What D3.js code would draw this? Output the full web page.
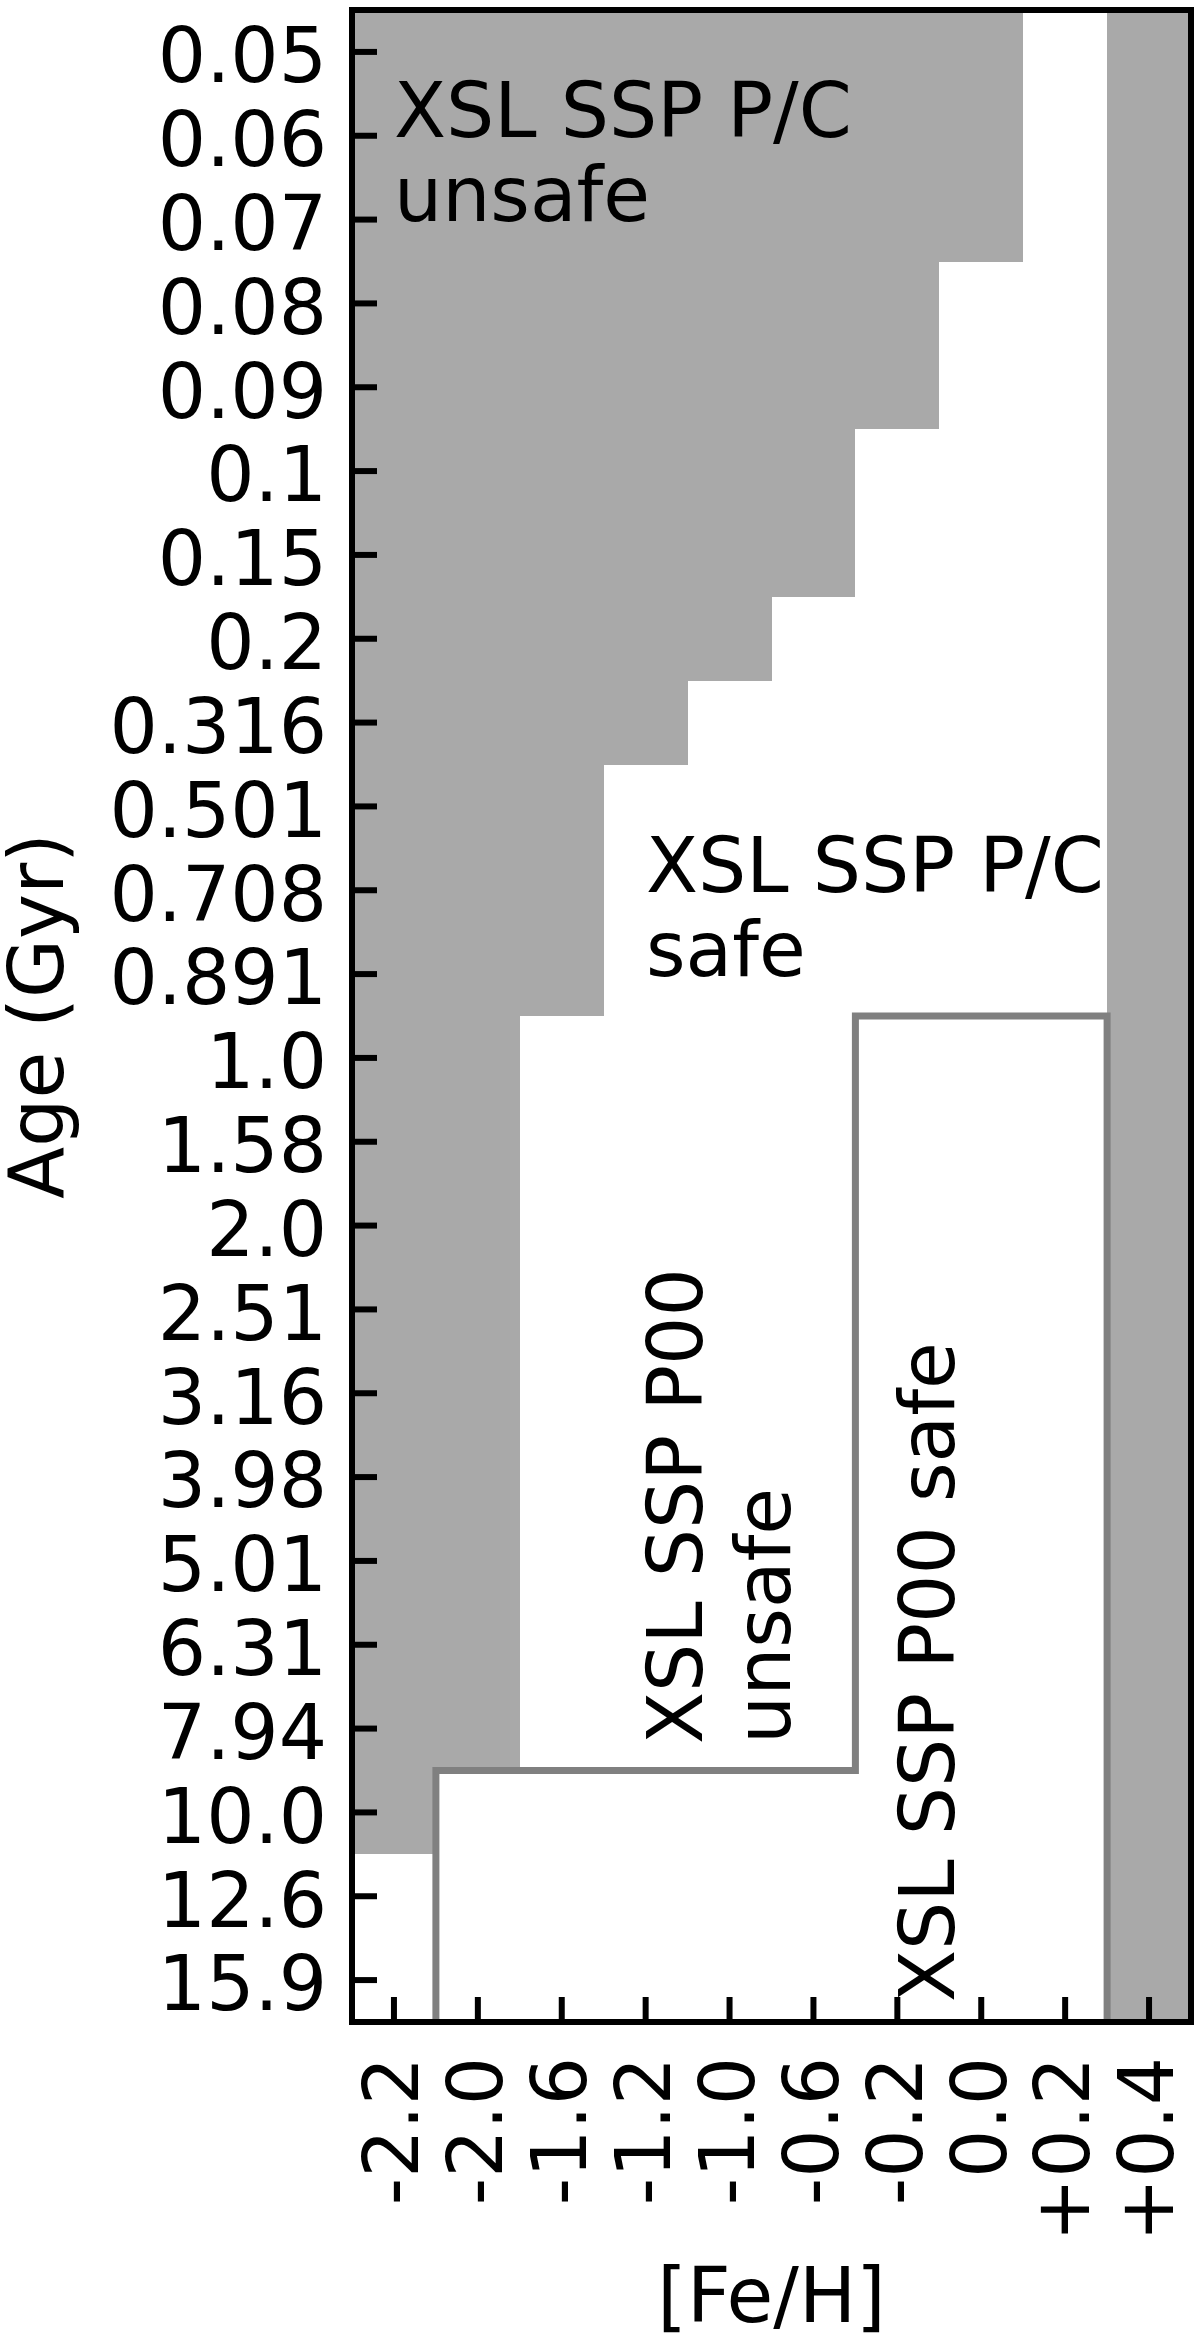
<!DOCTYPE html>
<html>
<head>
<meta charset="utf-8">
<script src="https://cdn.jsdelivr.net/npm/d3@7"></script>
<style>
body{margin:0;background:#fff;}
svg{display:block;font-family:"DejaVu Sans";}
</style>
</head>
<body>
<svg id="chart" width="1200" height="2345"></svg>
<script>
//metallicity columns
var fehLabels = ["-2.2","-2.0","-1.6","-1.2","-1.0","-0.6","-0.2","0.0","+0.2","+0.4"];

//age rows, top to bottom
var ageLabels = ["0.05","0.06","0.07","0.08","0.09","0.1","0.15","0.2","0.316","0.501","0.708","0.891",
	"1.0","1.58","2.0","2.51","3.16","3.98","5.01","6.31","7.94","10.0","12.6","15.9"];

//how many rows (from the top) are P/C unsafe in each column
var pcUnsafeRows = [22, 21, 12, 9, 8, 7, 5, 3, 0, 24];

//first row of the P00 safe box per column, null = outside the box
var p00SafeFrom = [null, 21, 21, 21, 21, 21, 12, 12, 12, null];

var fontSize = 76;
var plotLeft = 352, plotRight = 1191, plotTop = 10, plotBottom = 2022;

var svg = d3.select("#chart");

var xScale = d3.scaleBand()
.domain(fehLabels)
.range([plotLeft, plotRight])
.padding(0);

var yScale = d3.scaleBand()
.domain(ageLabels)
.range([plotTop, plotBottom])
.padding(0);

//gray unsafe cells, one bar per column
svg.append("g")
.selectAll("rect")
.data(pcUnsafeRows)
.enter()
.append("rect")
.attr("x", function(d, i){ return xScale(fehLabels[i]); })
.attr("y", plotTop)
.attr("width", xScale.bandwidth())
.attr("height", function(d){ return d * yScale.bandwidth(); })
.attr("fill", "#a9a9a9")
.attr("shape-rendering", "crispEdges");

//P00 safe outline, stepped
var outline = [];
var firstCol = p00SafeFrom.findIndex(function(d){ return d !== null; });
outline.push([xScale(fehLabels[firstCol]), plotBottom]);
p00SafeFrom.forEach(function(d, i){
	if(d === null) return;
	var top = plotTop + d * yScale.bandwidth();
	outline.push([xScale(fehLabels[i]), top]);
	outline.push([xScale(fehLabels[i]) + xScale.bandwidth(), top]);
});
outline.push([outline[outline.length - 1][0], plotBottom]);

svg.append("path")
.attr("d", d3.line()(outline))
.attr("fill", "none")
.attr("stroke", "#808080")
.attr("stroke-width", 7);

//annotations
function addLabel(x, y, lines, rotate, lineGap){
	var t = svg.append("text")
	.attr("transform", "translate(" + x + "," + y + ")" + (rotate ? " rotate(-90)" : ""))
	.style("font-size", fontSize + "px")
	.attr("fill", "#000");
	lines.forEach(function(s, i){
		t.append("tspan")
		.attr("x", 0)
		.attr("y", i * lineGap)
		.text(s);
	});
}

addLabel(394, 137, ["XSL SSP P/C", "unsafe"], false, 84);
addLabel(646, 892, ["XSL SSP P/C", "safe"], false, 84);
addLabel(702, 1744, ["XSL SSP P00", "unsafe"], true, 88);
addLabel(954, 2002, ["XSL SSP P00 safe"], true, 84);

//axes, ticks pointing in
var yAxis = d3.axisLeft(yScale).tickSizeInner(-25).tickSizeOuter(0).tickPadding(25);
var xAxis = d3.axisBottom(xScale).tickSizeInner(-25).tickSizeOuter(0);

var yG = svg.append("g")
.attr("transform", "translate(" + plotLeft + ",0)")
.call(yAxis);

var xG = svg.append("g")
.attr("transform", "translate(0," + plotBottom + ")")
.call(xAxis);

[yG, xG].forEach(function(g){
	g.select(".domain").remove();
	g.selectAll(".tick line").attr("stroke", "#000").attr("stroke-width", 6);
	g.selectAll(".tick text")
	.attr("fill", "#000")
	.style("font-size", fontSize + "px")
	.style("font-family", "DejaVu Sans");
});

yG.selectAll(".tick text").attr("dy", "0.4em");

//rotated metallicity labels
xG.selectAll(".tick text")
.attr("transform", "rotate(-90)")
.attr("text-anchor", "end")
.attr("x", -35)
.attr("y", 0)
.attr("dy", "0.32em");

//frame
svg.append("rect")
.attr("x", plotLeft)
.attr("y", plotTop)
.attr("width", plotRight - plotLeft)
.attr("height", plotBottom - plotTop)
.attr("fill", "none")
.attr("stroke", "#000")
.attr("stroke-width", 6);

//axis titles
svg.append("text")
.attr("transform", "translate(63,1016) rotate(-90)")
.attr("text-anchor", "middle")
.style("font-size", fontSize + "px")
.text("Age (Gyr)");

svg.append("text")
.attr("x", (plotLeft + plotRight) / 2)
.attr("y", 2322)
.attr("text-anchor", "middle")
.style("font-size", fontSize + "px")
.text("[Fe/H]");
</script>
</body>
</html>
